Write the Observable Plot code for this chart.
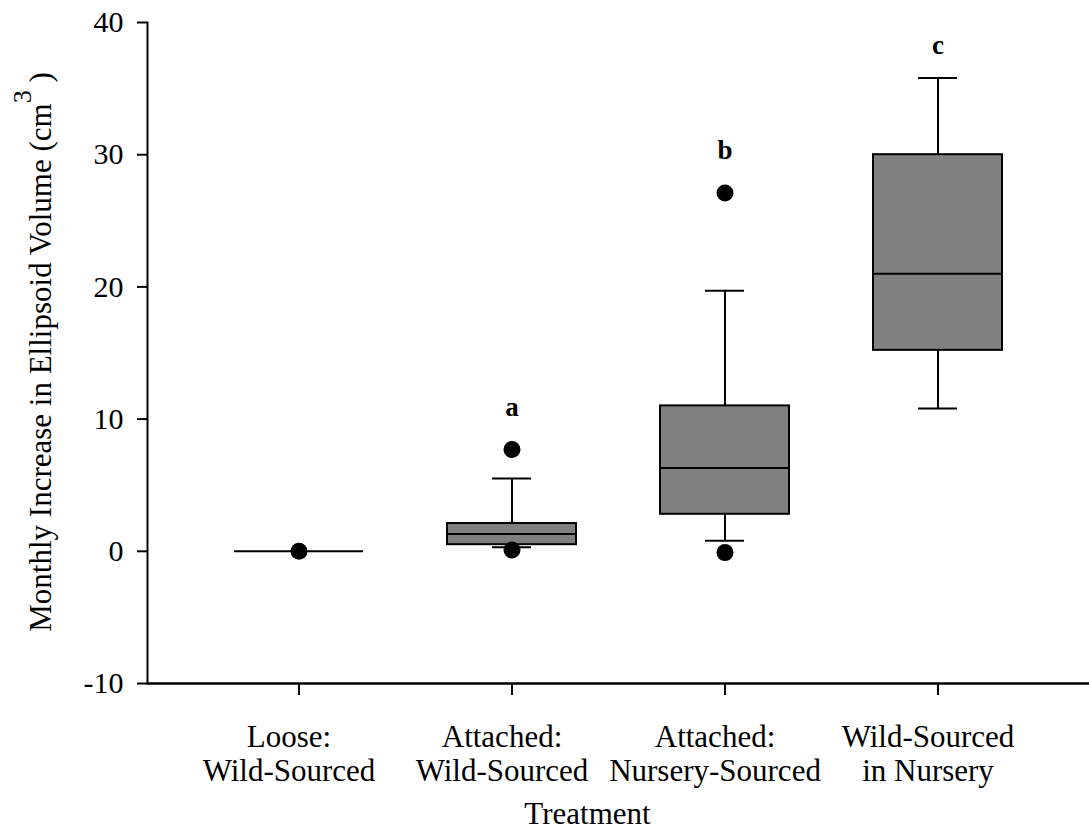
<!DOCTYPE html>
<html><head><meta charset="utf-8">
<script src="https://cdn.jsdelivr.net/npm/d3@7"></script>
<script src="https://cdn.jsdelivr.net/npm/@observablehq/plot@0.6"></script>
<style>
body{margin:0;background:#fff;}
svg{font-family:"Liberation Serif","Times New Roman",serif;}
</style>
</head><body><div id="chart"></div>
<script>
const treatments = ["Loose:\nWild-Sourced", "Attached:\nWild-Sourced", "Attached:\nNursery-Sourced", "Wild-Sourced\nin Nursery"];
const q1 = [0, 0.5, 2.8, 15.2];
const median = [0, 1.3, 6.3, 21.0];
const q3 = [0, 2.1, 11.0, 30.0];
const whiskerLow = [0, 0.3, 0.8, 10.8];
const whiskerHigh = [0, 5.5, 19.7, 35.8];
const outlierGroup = [0, 1, 1, 2, 2];
const outlierValue = [0, 7.7, 0.1, 27.1, -0.1];
const letters = ["a", "b", "c"];
const letterGroup = [1, 2, 3];
const letterValue = [10.2, 29.7, 37.6];
const yTicks = [-10, 0, 10, 20, 30, 40];

const boxes = treatments.map((t, i) => ({t, q1: q1[i], med: median[i], q3: q3[i], lo: whiskerLow[i], hi: whiskerHigh[i]}));
const whiskered = boxes.filter(d => d.hi > d.lo);
const outliers = outlierValue.map((v, i) => ({t: treatments[outlierGroup[i]], v}));
const letterData = letters.map((l, i) => ({t: treatments[letterGroup[i]], v: letterValue[i], l}));

const serif = "Liberation Serif, Times New Roman, serif";

const plot = Plot.plot({
  width: 1089, height: 830,
  marginLeft: 147, marginRight: 0, marginTop: 22, marginBottom: 147,
  style: {fontFamily: serif, fontSize: "30px", color: "black", background: "white"},
  x: {domain: treatments, paddingInner: 0.393, paddingOuter: 0.405},
  y: {domain: [-10, 40]},
  marks: [
    Plot.axisY({ticks: yTicks, tickFormat: d => String(d), tickSize: 10, tickPadding: 14, fontSize: 30, fontFamily: serif, label: null, strokeWidth: 2}),
    Plot.axisX({tickSize: 12, tickFormat: () => "", label: null, strokeWidth: 2}),
    Plot.ruleY([-10], {strokeWidth: 2.5}),
    Plot.frame({anchor: "left", strokeWidth: 2}),
    Plot.ruleX(whiskered, {x: "t", y1: "q3", y2: "hi", strokeWidth: 2}),
    Plot.ruleX(whiskered, {x: "t", y1: "lo", y2: "q1", strokeWidth: 2}),
    Plot.tickY(whiskered, {x: "t", y: "hi", inset: 45, strokeWidth: 2}),
    Plot.tickY(whiskered, {x: "t", y: "lo", inset: 45, strokeWidth: 2}),
    Plot.barY(boxes, {x: "t", y1: "q1", y2: "q3", fill: "#808080", stroke: "black", strokeWidth: 2}),
    Plot.tickY(boxes, {x: "t", y: "med", strokeWidth: 2}),
    Plot.dot(outliers, {x: "t", y: "v", r: 8.5, fill: "black"}),
    Plot.text(letterData, {x: "t", y: "v", text: "l", fontWeight: "bold", fontSize: 27, fontFamily: serif, lineAnchor: "bottom"}),
    Plot.text(treatments, {x: d => d, text: d => d, frameAnchor: "bottom", dx: -10, dy: 39, lineAnchor: "top", fontSize: 31, fontFamily: serif, lineHeight: 1.1}),
    Plot.text(["Treatment"], {text: d => d, frameAnchor: "bottom", dx: -31, dy: 140, lineAnchor: "bottom", fontSize: 31, fontFamily: serif})
  ]
});

const svg = d3.select(plot);
const t = svg.append("text")
  .attr("transform", "translate(51,352) rotate(-90)")
  .attr("text-anchor", "middle")
  .attr("font-family", serif)
  .attr("font-size", 31)
  .attr("fill", "black");
t.append("tspan").text("Monthly Increase in Ellipsoid Volume (cm");
t.append("tspan").attr("dy", -20).attr("font-size", 26).text("3");
t.append("tspan").attr("dy", 20).text(" )");

document.getElementById("chart").appendChild(plot);
</script>
</body></html>
